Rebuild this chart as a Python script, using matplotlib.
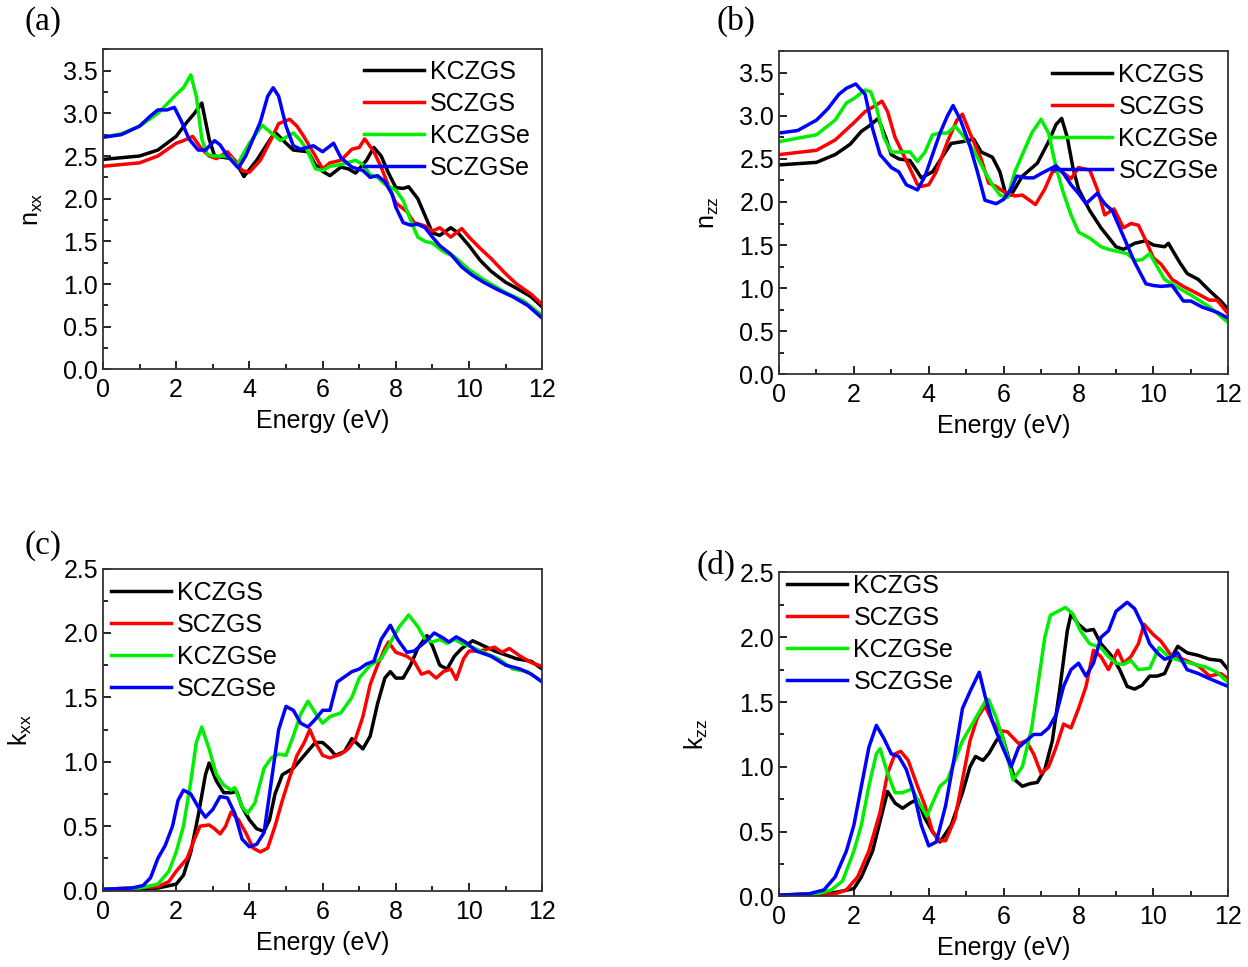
import numpy as np
import matplotlib.pyplot as plt
from matplotlib.ticker import MultipleLocator

plt.rcParams['font.family'] = ['Liberation Sans', 'DejaVu Sans']
plt.rcParams['mathtext.default'] = 'regular'

names = ['KCZGS', 'SCZGS', 'KCZGSe', 'SCZGSe']
colors = ['black', '#ff0000', '#00ee00', '#0000ff']

# ---- (a) n_xx ----
a_KCZGS_E = [0, 1.0, 1.5, 2.0, 2.3, 2.5, 2.7, 2.9, 3.05, 3.5, 3.6, 3.85, 4.2, 4.5, 4.7, 5.0, 5.2, 5.6, 5.8, 6.0, 6.2, 6.5, 6.7, 6.9, 7.0, 7.2, 7.4, 7.6, 7.8, 8.0, 8.2, 8.35, 8.6, 8.8, 9.0, 9.2, 9.5, 9.7, 10.0, 10.3, 10.6, 11.0, 11.3, 11.7, 12]
a_KCZGS = [2.46, 2.50, 2.57, 2.73, 2.9, 3.0, 3.12, 2.7, 2.5, 2.47, 2.45, 2.26, 2.45, 2.65, 2.78, 2.65, 2.57, 2.55, 2.40, 2.32, 2.27, 2.37, 2.35, 2.30, 2.35, 2.45, 2.60, 2.5, 2.3, 2.13, 2.12, 2.14, 2.0, 1.8, 1.6, 1.57, 1.66, 1.6, 1.45, 1.28, 1.15, 1.02, 0.95, 0.85, 0.73]
a_SCZGS_E = [0, 1.0, 1.5, 2.0, 2.2, 2.45, 2.7, 2.9, 3.1, 3.4, 3.6, 3.8, 4.0, 4.3, 4.6, 4.8, 5.1, 5.3, 5.5, 5.8, 6.0, 6.2, 6.5, 6.8, 7.0, 7.15, 7.4, 7.6, 7.8, 8.0, 8.3, 8.5, 8.8, 9.0, 9.2, 9.5, 9.8, 10.0, 10.3, 10.6, 11.0, 11.3, 11.7, 12]
a_SCZGS = [2.38, 2.42, 2.50, 2.65, 2.68, 2.73, 2.58, 2.50, 2.47, 2.55, 2.45, 2.33, 2.31, 2.45, 2.7, 2.88, 2.93, 2.85, 2.72, 2.50, 2.35, 2.42, 2.45, 2.58, 2.6, 2.70, 2.55, 2.37, 2.15, 1.95, 1.85, 1.72, 1.68, 1.62, 1.66, 1.55, 1.65, 1.55, 1.42, 1.30, 1.12, 1.0, 0.88, 0.76]
a_KCZGSe_E = [0, 0.5, 1.0, 1.5, 2.0, 2.2, 2.4, 2.55, 2.7, 2.85, 3.0, 3.3, 3.5, 3.65, 3.8, 4.0, 4.35, 4.6, 4.85, 5.2, 5.4, 5.6, 5.8, 6.0, 6.2, 6.5, 6.9, 7.1, 7.3, 7.5, 7.7, 8.0, 8.2, 8.4, 8.6, 8.8, 9.0, 9.3, 9.6, 10.0, 10.3, 10.6, 11.0, 11.5, 12]
a_KCZGSe = [2.72, 2.76, 2.85, 3.0, 3.22, 3.30, 3.45, 3.2, 2.7, 2.52, 2.50, 2.50, 2.48, 2.38, 2.50, 2.65, 2.86, 2.77, 2.68, 2.77, 2.68, 2.55, 2.35, 2.33, 2.38, 2.40, 2.45, 2.40, 2.28, 2.25, 2.17, 2.10, 1.98, 1.75, 1.55, 1.50, 1.48, 1.38, 1.32, 1.17, 1.08, 1.0, 0.90, 0.80, 0.63]
a_SCZGSe_E = [0, 0.5, 1.0, 1.3, 1.5, 1.75, 1.95, 2.15, 2.35, 2.6, 2.8, 3.05, 3.2, 3.4, 3.7, 3.9, 4.1, 4.3, 4.5, 4.65, 4.8, 5.0, 5.2, 5.4, 5.75, 6.0, 6.3, 6.5, 6.8, 7.1, 7.3, 7.5, 7.7, 7.9, 8.0, 8.2, 8.4, 8.6, 8.8, 9.0, 9.2, 9.5, 9.8, 10.1, 10.4, 10.8, 11.2, 11.6, 12]
a_SCZGSe = [2.72, 2.75, 2.85, 2.97, 3.04, 3.04, 3.07, 2.9, 2.7, 2.57, 2.57, 2.68, 2.63, 2.50, 2.36, 2.50, 2.70, 2.90, 3.20, 3.30, 3.20, 2.85, 2.62, 2.58, 2.62, 2.55, 2.65, 2.48, 2.37, 2.33, 2.25, 2.27, 2.20, 2.05, 1.90, 1.72, 1.69, 1.70, 1.66, 1.55, 1.45, 1.35, 1.20, 1.10, 1.02, 0.93, 0.85, 0.75, 0.60]

# ---- (b) n_zz ----
b_KCZGS_E = [0, 1.0, 1.5, 1.9, 2.2, 2.4, 2.65, 2.85, 3.0, 3.2, 3.5, 3.7, 3.8, 4.1, 4.4, 4.6, 4.9, 5.2, 5.4, 5.7, 5.9, 6.05, 6.2, 6.5, 6.9, 7.2, 7.4, 7.55, 7.7, 7.85, 8.0, 8.3, 8.6, 9.0, 9.2, 9.5, 9.8, 10.0, 10.3, 10.4, 10.7, 10.9, 11.2, 11.5, 11.8, 12]
b_KCZGS = [2.43, 2.46, 2.55, 2.67, 2.82, 2.88, 2.97, 2.75, 2.55, 2.50, 2.48, 2.35, 2.28, 2.35, 2.55, 2.68, 2.70, 2.73, 2.58, 2.52, 2.35, 2.10, 2.08, 2.30, 2.45, 2.70, 2.90, 2.97, 2.75, 2.40, 2.15, 1.90, 1.70, 1.48, 1.45, 1.52, 1.55, 1.50, 1.48, 1.52, 1.30, 1.17, 1.10, 0.97, 0.85, 0.75]
b_SCZGS_E = [0, 1.0, 1.5, 2.0, 2.3, 2.5, 2.75, 2.9, 3.1, 3.4, 3.7, 3.8, 4.0, 4.2, 4.5, 4.75, 4.9, 5.1, 5.4, 5.6, 5.8, 6.0, 6.3, 6.5, 6.85, 7.1, 7.3, 7.5, 7.8, 8.0, 8.3, 8.5, 8.7, 8.95, 9.2, 9.4, 9.6, 9.8, 10.0, 10.2, 10.5, 10.8, 11.2, 11.5, 11.7, 12]
b_SCZGS = [2.55, 2.60, 2.72, 2.92, 3.05, 3.10, 3.17, 3.05, 2.75, 2.48, 2.20, 2.18, 2.20, 2.35, 2.70, 2.95, 3.02, 2.80, 2.50, 2.22, 2.18, 2.12, 2.07, 2.08, 1.97, 2.15, 2.35, 2.37, 2.27, 2.40, 2.37, 2.15, 1.85, 1.92, 1.70, 1.75, 1.73, 1.55, 1.35, 1.28, 1.10, 1.02, 0.93, 0.86, 0.86, 0.70]
b_KCZGSe_E = [0, 1.0, 1.5, 1.8, 2.0, 2.3, 2.45, 2.6, 2.8, 3.0, 3.2, 3.5, 3.7, 3.9, 4.1, 4.3, 4.5, 4.7, 4.9, 5.2, 5.5, 5.7, 5.9, 6.1, 6.3, 6.5, 6.75, 7.0, 7.2, 7.4, 7.6, 7.8, 8.0, 8.3, 8.6, 8.8, 9.0, 9.3, 9.5, 9.7, 9.9, 10.1, 10.3, 10.6, 11.0, 11.5, 12]
b_KCZGSe = [2.70, 2.78, 2.95, 3.15, 3.20, 3.30, 3.28, 3.10, 2.75, 2.58, 2.58, 2.58, 2.47, 2.58, 2.78, 2.80, 2.80, 2.88, 2.78, 2.60, 2.35, 2.20, 2.08, 2.05, 2.35, 2.55, 2.80, 2.96, 2.80, 2.40, 2.10, 1.85, 1.65, 1.58, 1.48, 1.45, 1.43, 1.40, 1.32, 1.33, 1.40, 1.25, 1.10, 1.02, 0.92, 0.78, 0.60]
b_SCZGSe_E = [0, 0.5, 1.0, 1.3, 1.6, 1.8, 2.05, 2.3, 2.5, 2.7, 3.0, 3.2, 3.4, 3.7, 3.9, 4.1, 4.3, 4.5, 4.65, 4.85, 5.1, 5.3, 5.5, 5.8, 6.0, 6.2, 6.35, 6.6, 6.8, 7.0, 7.4, 7.6, 7.8, 8.0, 8.2, 8.5, 8.7, 8.9, 9.2, 9.5, 9.8, 10.0, 10.2, 10.5, 10.8, 11.0, 11.3, 11.7, 12]
b_SCZGSe = [2.80, 2.83, 2.95, 3.08, 3.25, 3.32, 3.37, 3.25, 2.85, 2.55, 2.40, 2.35, 2.20, 2.14, 2.30, 2.55, 2.80, 3.00, 3.12, 2.95, 2.65, 2.35, 2.02, 1.98, 2.03, 2.15, 2.30, 2.28, 2.28, 2.33, 2.42, 2.33, 2.20, 2.10, 1.98, 2.10, 1.98, 1.90, 1.60, 1.30, 1.05, 1.03, 1.02, 1.03, 0.85, 0.85, 0.78, 0.72, 0.65]

# ---- (c) k_xx ----
c_KCZGS_E = [0, 1.0, 1.5, 2.0, 2.2, 2.4, 2.6, 2.8, 2.9, 3.1, 3.3, 3.5, 3.65, 3.8, 4.0, 4.2, 4.4, 4.55, 4.7, 4.9, 5.2, 5.5, 5.8, 6.0, 6.2, 6.35, 6.6, 6.8, 7.1, 7.3, 7.5, 7.7, 7.85, 8.0, 8.2, 8.4, 8.6, 8.85, 9.0, 9.2, 9.4, 9.6, 9.8, 10.1, 10.4, 10.7, 11.0, 11.3, 11.7, 12]
c_KCZGS = [0.01, 0.01, 0.02, 0.05, 0.12, 0.30, 0.58, 0.90, 0.99, 0.85, 0.76, 0.76, 0.77, 0.65, 0.55, 0.48, 0.46, 0.55, 0.75, 0.90, 0.95, 1.05, 1.15, 1.15, 1.10, 1.05, 1.08, 1.18, 1.10, 1.20, 1.45, 1.65, 1.70, 1.65, 1.65, 1.75, 1.88, 1.98, 1.90, 1.75, 1.72, 1.82, 1.88, 1.94, 1.90, 1.86, 1.83, 1.80, 1.78, 1.72]
c_SCZGS_E = [0, 1.5, 1.8, 2.0, 2.3, 2.5, 2.65, 2.9, 3.05, 3.2, 3.35, 3.5, 3.7, 3.9, 4.1, 4.3, 4.5, 4.7, 4.9, 5.1, 5.3, 5.5, 5.65, 5.8, 6.0, 6.2, 6.5, 6.7, 6.9, 7.1, 7.3, 7.5, 7.7, 7.8, 8.0, 8.3, 8.5, 8.7, 8.9, 9.1, 9.3, 9.5, 9.65, 9.85, 10.0, 10.3, 10.7, 10.9, 11.1, 11.4, 11.7, 12]
c_SCZGS = [0.01, 0.03, 0.07, 0.15, 0.25, 0.40, 0.50, 0.51, 0.48, 0.44, 0.50, 0.61, 0.55, 0.45, 0.33, 0.30, 0.33, 0.50, 0.70, 0.88, 1.05, 1.15, 1.25, 1.15, 1.05, 1.03, 1.06, 1.10, 1.18, 1.35, 1.60, 1.75, 1.88, 1.93, 1.85, 1.82, 1.78, 1.68, 1.70, 1.65, 1.70, 1.72, 1.64, 1.80, 1.86, 1.86, 1.89, 1.85, 1.88, 1.82, 1.77, 1.74]
c_KCZGSe_E = [0, 1.0, 1.5, 1.8, 2.0, 2.2, 2.4, 2.55, 2.7, 2.9, 3.1, 3.3, 3.5, 3.6, 3.8, 3.95, 4.15, 4.4, 4.6, 4.8, 5.0, 5.2, 5.4, 5.6, 5.8, 6.0, 6.2, 6.5, 6.8, 7.0, 7.3, 7.6, 7.8, 8.1, 8.35, 8.6, 8.8, 9.0, 9.2, 9.4, 9.6, 9.8, 10.0, 10.4, 10.8, 11.2, 11.6, 12]
c_KCZGSe = [0.01, 0.02, 0.05, 0.15, 0.30, 0.50, 0.85, 1.15, 1.27, 1.10, 0.90, 0.82, 0.78, 0.80, 0.65, 0.60, 0.68, 0.95, 1.03, 1.06, 1.05, 1.20, 1.37, 1.47, 1.38, 1.30, 1.35, 1.38, 1.50, 1.65, 1.75, 1.80, 1.90, 2.05, 2.14, 2.05, 1.95, 1.93, 1.95, 1.92, 1.95, 1.92, 1.90, 1.85, 1.80, 1.72, 1.70, 1.62]
c_SCZGSe_E = [0, 0.8, 1.1, 1.3, 1.5, 1.7, 1.9, 2.05, 2.2, 2.4, 2.6, 2.8, 3.0, 3.2, 3.4, 3.6, 3.8, 4.0, 4.2, 4.4, 4.6, 4.8, 5.0, 5.2, 5.4, 5.6, 5.8, 6.0, 6.2, 6.4, 6.6, 6.8, 7.0, 7.2, 7.4, 7.6, 7.85, 8.05, 8.3, 8.5, 8.8, 9.05, 9.3, 9.45, 9.65, 9.9, 10.2, 10.6, 11.0, 11.4, 11.7, 12]
c_SCZGSe = [0.01, 0.02, 0.04, 0.10, 0.25, 0.35, 0.50, 0.70, 0.78, 0.75, 0.65, 0.57, 0.63, 0.73, 0.72, 0.60, 0.40, 0.34, 0.36, 0.45, 0.85, 1.25, 1.43, 1.40, 1.30, 1.27, 1.33, 1.40, 1.40, 1.62, 1.66, 1.70, 1.72, 1.76, 1.78, 1.95, 2.06, 1.95, 1.85, 1.86, 1.93, 2.00, 1.96, 1.93, 1.97, 1.93, 1.86, 1.82, 1.75, 1.72, 1.68, 1.62]

# ---- (d) k_zz ----
d_KCZGS_E = [0, 1.0, 1.5, 2.0, 2.2, 2.5, 2.7, 2.9, 3.1, 3.3, 3.5, 3.7, 3.9, 4.1, 4.3, 4.6, 4.9, 5.1, 5.25, 5.45, 5.6, 5.8, 5.95, 6.1, 6.3, 6.5, 6.7, 6.9, 7.1, 7.3, 7.5, 7.7, 7.8, 8.0, 8.2, 8.4, 8.6, 8.9, 9.1, 9.3, 9.5, 9.7, 9.9, 10.1, 10.3, 10.5, 10.65, 10.9, 11.2, 11.5, 11.8, 12]
d_KCZGS = [0.01, 0.02, 0.03, 0.06, 0.15, 0.35, 0.58, 0.81, 0.72, 0.68, 0.72, 0.75, 0.60, 0.50, 0.42, 0.55, 0.80, 1.00, 1.08, 1.05, 1.10, 1.20, 1.25, 1.10, 0.90, 0.85, 0.87, 0.88, 0.98, 1.20, 1.60, 2.05, 2.18, 2.10, 2.05, 2.06, 1.95, 1.85, 1.75, 1.62, 1.60, 1.63, 1.70, 1.70, 1.72, 1.85, 1.93, 1.88, 1.86, 1.83, 1.82, 1.75]
d_SCZGS_E = [0, 1.0, 1.5, 1.8, 2.1, 2.4, 2.7, 2.9, 3.1, 3.25, 3.45, 3.7, 3.9, 4.1, 4.3, 4.45, 4.7, 4.9, 5.1, 5.3, 5.5, 5.7, 5.9, 6.1, 6.4, 6.6, 6.8, 7.0, 7.2, 7.4, 7.6, 7.8, 8.0, 8.2, 8.4, 8.6, 8.8, 9.05, 9.2, 9.4, 9.6, 9.75, 10.0, 10.2, 10.5, 10.8, 11.2, 11.5, 11.8, 12]
d_SCZGS = [0.01, 0.01, 0.02, 0.05, 0.15, 0.35, 0.65, 0.95, 1.10, 1.12, 1.05, 0.85, 0.70, 0.50, 0.43, 0.43, 0.60, 0.90, 1.20, 1.38, 1.47, 1.35, 1.28, 1.27, 1.18, 1.20, 1.10, 0.95, 1.00, 1.15, 1.33, 1.30, 1.45, 1.62, 1.90, 1.85, 1.75, 1.90, 1.80, 1.85, 1.95, 2.10, 2.02, 1.97, 1.85, 1.83, 1.78, 1.70, 1.72, 1.68]
d_KCZGSe_E = [0, 1.0, 1.4, 1.7, 2.0, 2.2, 2.4, 2.6, 2.7, 2.9, 3.1, 3.3, 3.55, 3.75, 3.95, 4.1, 4.3, 4.5, 4.7, 4.9, 5.2, 5.5, 5.6, 5.8, 6.0, 6.25, 6.5, 6.75, 6.9, 7.1, 7.25, 7.45, 7.65, 7.85, 8.05, 8.3, 8.6, 8.8, 9.0, 9.2, 9.4, 9.6, 9.9, 10.15, 10.4, 10.7, 11.0, 11.4, 11.7, 12]
d_KCZGSe = [0.01, 0.02, 0.05, 0.12, 0.35, 0.55, 0.85, 1.10, 1.14, 0.95, 0.80, 0.80, 0.83, 0.72, 0.62, 0.72, 0.85, 0.90, 1.05, 1.20, 1.35, 1.50, 1.52, 1.38, 1.20, 0.90, 1.00, 1.30, 1.60, 2.00, 2.17, 2.20, 2.23, 2.18, 2.05, 1.95, 1.92, 1.85, 1.80, 1.79, 1.82, 1.75, 1.76, 1.92, 1.85, 1.82, 1.80, 1.77, 1.73, 1.65]
d_SCZGSe_E = [0, 0.8, 1.2, 1.5, 1.8, 2.0, 2.2, 2.4, 2.6, 2.8, 3.0, 3.2, 3.4, 3.6, 3.8, 4.0, 4.2, 4.45, 4.7, 4.9, 5.1, 5.35, 5.5, 5.7, 5.9, 6.05, 6.2, 6.4, 6.6, 6.8, 7.0, 7.2, 7.4, 7.6, 7.8, 8.0, 8.2, 8.4, 8.6, 8.8, 9.0, 9.3, 9.5, 9.7, 9.9, 10.1, 10.3, 10.5, 10.65, 10.9, 11.2, 11.5, 12]
d_SCZGSe = [0.01, 0.02, 0.05, 0.15, 0.35, 0.55, 0.85, 1.15, 1.32, 1.22, 1.10, 1.08, 0.98, 0.80, 0.55, 0.39, 0.42, 0.70, 1.10, 1.45, 1.58, 1.73, 1.55, 1.35, 1.20, 1.10, 1.00, 1.15, 1.20, 1.25, 1.25, 1.30, 1.40, 1.62, 1.75, 1.80, 1.70, 1.80, 2.00, 2.05, 2.20, 2.27, 2.22, 2.10, 1.95, 1.88, 1.83, 1.85, 1.88, 1.75, 1.72, 1.68, 1.62]

panels = [
    ('(a)', r'n$_{xx}$', 3.75, 0.5,
     [(a_KCZGS_E, a_KCZGS), (a_SCZGS_E, a_SCZGS), (a_KCZGSe_E, a_KCZGSe), (a_SCZGSe_E, a_SCZGSe)]),
    ('(b)', r'n$_{zz}$', 3.75, 0.5,
     [(b_KCZGS_E, b_KCZGS), (b_SCZGS_E, b_SCZGS), (b_KCZGSe_E, b_KCZGSe), (b_SCZGSe_E, b_SCZGSe)]),
    ('(c)', r'k$_{xx}$', 2.5, 0.5,
     [(c_KCZGS_E, c_KCZGS), (c_SCZGS_E, c_SCZGS), (c_KCZGSe_E, c_KCZGSe), (c_SCZGSe_E, c_SCZGSe)]),
    ('(d)', r'k$_{zz}$', 2.5, 0.5,
     [(d_KCZGS_E, d_KCZGS), (d_SCZGS_E, d_SCZGS), (d_KCZGSe_E, d_KCZGSe), (d_SCZGSe_E, d_SCZGSe)]),
]

# axes rectangles (fig fraction) and legend anchors (axes fraction)
rects = [[0.0825, 0.618, 0.352, 0.331],
         [0.6242, 0.613, 0.360, 0.334],
         [0.0825, 0.079, 0.352, 0.333],
         [0.6242, 0.073, 0.360, 0.335]]
leg_anchor = [(0.594, 0.968), (0.608, 0.963), (0.018, 0.962), (0.018, 0.995)]
ylab_pad = [13, 13, 21, 21]
tag_pos = [(0.020, 0.978), (0.574, 0.978), (0.020, 0.436), (0.558, 0.415)]

fig = plt.figure(figsize=(12.48, 9.67), dpi=100)
for i, (tag, ylab, ytop, ystep, series) in enumerate(panels):
    ax = fig.add_axes(rects[i])
    for (E, y), nm, c in zip(series, names, colors):
        ax.plot(E, y, color=c, lw=2.5, label=nm, solid_joinstyle='round')
    ax.set_xlim(0, 12)
    ax.set_ylim(0, ytop)
    ax.xaxis.set_major_locator(MultipleLocator(2))
    ax.xaxis.set_minor_locator(MultipleLocator(1))
    ax.yaxis.set_major_locator(MultipleLocator(ystep))
    ax.yaxis.set_minor_locator(MultipleLocator(ystep / 2))
    ax.tick_params(which='both', direction='in', labelsize=18, width=1.2)
    ax.tick_params(which='major', length=6)
    ax.tick_params(which='minor', length=3.5)
    ax.tick_params(axis='x', pad=6.5)
    for s in ax.spines.values():
        s.set_linewidth(1.3)
        s.set_color('#333333')
    ax.set_xlabel('Energy (eV)', fontsize=18, labelpad=5)
    ax.set_ylabel(ylab, fontsize=18, labelpad=ylab_pad[i])
    ax.legend(loc='upper left', bbox_to_anchor=leg_anchor[i], frameon=False, fontsize=18,
              handlelength=2.4, handletextpad=0.25, labelspacing=0.32, borderpad=0,
              borderaxespad=0)
    fig.text(tag_pos[i][0], tag_pos[i][1], tag, fontsize=24, family='Liberation Serif',
             va='center')

fig.savefig('out.png', dpi=100)
